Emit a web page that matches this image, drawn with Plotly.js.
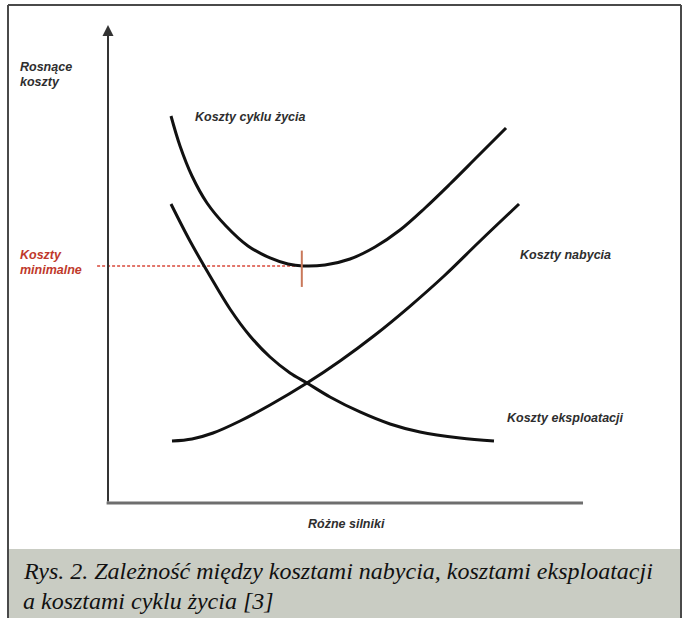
<!DOCTYPE html>
<html>
<head>
<meta charset="utf-8">
<script src="https://cdn.plot.ly/plotly-3.0.1.min.js"></script>
<style>html,body{margin:0;padding:0;background:#fff;}#chart{width:683px;height:618px;}</style>
</head>
<body>
<div id="chart"></div>
<script>
// ---- data (abstract units: x = engine variant 0..10, y = cost 0..10) ----
const lifeX = [1.326, 1.516, 1.768, 2.084, 2.484, 2.947, 3.411, 3.789, 4.105, 4.568, 5.095, 5.621, 6.147, 6.674, 7.200, 7.789, 8.379];
const lifeY = [8.096, 7.469, 6.841, 6.276, 5.795, 5.377, 5.126, 5.000, 4.958, 4.979, 5.105, 5.356, 5.711, 6.172, 6.674, 7.259, 7.845];
const opX = [1.326, 1.726, 2.147, 2.568, 2.989, 3.411, 3.832, 4.189, 4.674, 5.305, 5.937, 6.568, 7.411, 8.126];
const opY = [6.255, 5.481, 4.749, 4.059, 3.494, 3.054, 2.720, 2.510, 2.218, 1.904, 1.653, 1.485, 1.360, 1.297];
const acqX = [1.347, 1.768, 2.211, 2.779, 3.411, 4.189, 4.884, 5.621, 6.337, 7.074, 7.811, 8.653];
const acqY = [1.297, 1.339, 1.464, 1.715, 2.050, 2.510, 2.971, 3.515, 4.100, 4.749, 5.460, 6.255];
const minX = 4.08, minY = 4.96;
const seriesNames = ["Koszty cyklu życia", "Koszty eksploatacji", "Koszty nabycia"];
const axisLabels = {x: "Różne silniki", y: ["Rosnące", "koszty"]};
const minLabel = ["Koszty", "minimalne"];
const caption = ["Rys. 2. Zależność między kosztami nabycia, kosztami eksploatacji", "a kosztami cyklu życia [3]"];

const W = 683, H = 618;
const px = x => x / W, py = y => 1 - y / H;

const lineStyle = {color: '#111', width: 3, shape: 'spline', smoothing: 1};
const traces = [
  {x: lifeX, y: lifeY, name: seriesNames[0], mode: 'lines', line: lineStyle, hoverinfo: 'skip'},
  {x: opX, y: opY, name: seriesNames[1], mode: 'lines', line: lineStyle, hoverinfo: 'skip'},
  {x: acqX, y: acqY, name: seriesNames[2], mode: 'lines', line: lineStyle, hoverinfo: 'skip'}
];

const sansFont = (c) => ({family: 'Liberation Sans, Arial, sans-serif', size: 12.5, color: c || '#2e2e2e', weight: 'bold', style: 'italic'});
const serifFont = {family: 'Liberation Serif, Times New Roman, serif', size: 24, color: '#111', style: 'italic'};
const txt = (text, x, y, font, xa) => ({text, xref: 'paper', yref: 'paper', x: px(x), y: py(y), xanchor: xa || 'left', yanchor: 'middle', showarrow: false, font, borderpad: 0});

const layout = {
  width: W, height: H,
  margin: {l: 0, r: 0, t: 0, b: 0},
  paper_bgcolor: '#fff', plot_bgcolor: 'rgba(0,0,0,0)',
  showlegend: false,
  xaxis: {range: [-2.274, 12.105], visible: false, fixedrange: true},
  yaxis: {range: [-2.406, 10.523], visible: false, fixedrange: true},
  shapes: [
    {type: 'rect', xref: 'paper', yref: 'paper', x0: px(8), x1: px(681), y0: 0, y1: py(549), fillcolor: '#c9ccc3', line: {width: 0}, layer: 'below'},
    {type: 'line', xref: 'paper', yref: 'paper', x0: px(8), x1: px(8), y0: py(5), y1: 0, line: {color: '#4a4a4a', width: 2}},
    {type: 'line', xref: 'paper', yref: 'paper', x0: px(8), x1: px(681), y0: py(5), y1: py(5), line: {color: '#4a4a4a', width: 2}},
    {type: 'line', xref: 'paper', yref: 'paper', x0: px(681), x1: px(681), y0: py(5), y1: 0, line: {color: '#4a4a4a', width: 2}},
    {type: 'line', xref: 'x', yref: 'y', x0: -0.03, x1: 10, y0: 0, y1: 0, line: {color: '#6e6e6e', width: 3}},
    {type: 'line', xref: 'x', yref: 'y', x0: -0.23, x1: minX, y0: minY, y1: minY, line: {color: '#d9483a', width: 1.5, dash: '3px,2px'}, layer: 'below'},
    {type: 'line', xref: 'x', yref: 'y', x0: minX, x1: minX, y0: minY - 0.44, y1: minY + 0.32, line: {color: '#c9785a', width: 2}}
  ],
  annotations: [
    {x: 0, y: 10, xref: 'x', yref: 'y', ax: 0, ay: 0, axref: 'x', ayref: 'y', text: '', showarrow: true, arrowhead: 2, arrowsize: 1.1, arrowwidth: 2, arrowcolor: '#333'},
    txt(axisLabels.y[0], 19, 67.5, sansFont()),
    txt(axisLabels.y[1], 19, 82, sansFont()),
    txt(minLabel[0], 19, 255, sansFont('#c0392b')),
    txt(minLabel[1], 19, 269.5, sansFont('#c0392b')),
    txt(seriesNames[0], 194, 117, sansFont()),
    txt(seriesNames[2], 519, 254.5, sansFont()),
    txt(seriesNames[1], 506, 418, sansFont()),
    txt(axisLabels.x, 346, 524, sansFont(), 'center'),
    txt(caption[0], 22, 571, serifFont),
    txt(caption[1], 22, 601, serifFont)
  ]
};

Plotly.newPlot('chart', traces, layout, {displayModeBar: false, staticPlot: true});
</script>
</body>
</html>
